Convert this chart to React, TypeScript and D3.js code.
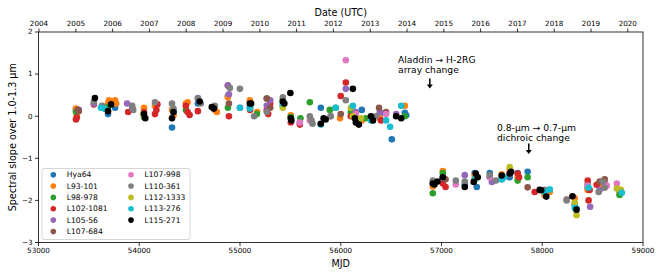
import React from "react";
import * as d3 from "d3";

// spectral slope per standard star, [MJD, slope]
const hya64 = [
  [53372, 0.15], [53630, 0.2], [53690, 0.05], [53760, 0.2], [54325, -0.27], [54582, 0.3], [54880, 0.48],
  [55098, 0.22], [55425, 0.25], [55802, 0.2], [56120, 0.12], [56209, 0.15], [56388, 0.05], [56507, -0.55],
  [56636, 0.08], [56650, 0.02],
  [56914, -1.6], [57013, -1.45], [57231, -1.62], [57330, -1.35], [57350, -1.68], [57479, -1.35], [57598, -1.45],
  [57677, -1.45], [57756, -1.35], [57855, -1.32], [58074, -1.75], [58322, -2.1], [58451, -1.7], [58570, -1.6],
  [58768, -1.78],
];
const l93_101 = [
  [53372, 0.18], [53380, 0.0], [53690, 0.3], [53700, 0.38], [53760, 0.38], [53770, 0.3], [54047, 0.2],
  [54156, 0.25], [54325, 0.15], [54340, 0.02], [54463, 0.3], [54480, 0.33], [54751, 0.15], [54770, 0.1],
  [54880, 0.45], [55098, 0.38], [55170, 0.1], [55504, 0.02], [55993, -0.05], [56209, -0.1], [56388, -0.05],
  [56636, 0.25],
  [56914, -1.67], [57013, -1.3], [57330, -1.4], [57598, -1.38], [57677, -1.28], [57756, -1.45], [58024, -1.88],
  [58074, -1.8], [58322, -1.95], [58451, -1.75], [58570, -1.65], [58768, -1.85],
];
const l98_978 = [
  [53372, 0.1], [53690, 0.22], [54047, -0.02], [54463, 0.15], [54880, 0.2], [55167, 0.05], [55266, 0.42],
  [55425, 0.38], [55504, -0.02], [55600, -0.05], [55693, 0.33], [55891, 0.15], [55950, 0.2], [56100, 0.1],
  [56250, -0.05], [56636, 0.0],
  [56914, -1.83], [57013, -1.35], [57330, -1.5], [57350, -1.45], [57756, -1.53], [57855, -1.45], [58451, -1.62],
  [58768, -1.87],
];
const l102_1081 = [
  [53372, -0.08], [53380, -0.03], [53550, 0.28], [53890, 0.1], [54047, 0.1], [54156, 0.05], [54170, 0.15],
  [54180, 0.28], [54463, 0.25], [54480, 0.1], [54500, 0.03], [54582, 0.12], [54880, 0.73], [54890, 0.0],
  [55100, 0.15], [55266, 0.15], [55280, 0.05], [55300, 0.3], [55504, -0.15], [55594, -0.2], [56000, 0.48],
  [56050, 0.8], [56100, 0.0], [56300, -0.05], [56400, -0.1],
  [57013, -1.6], [57040, -1.68], [57756, -1.36], [57770, -1.45], [57925, -1.8], [58451, -1.53], [58460, -2.0],
  [58470, -1.75], [58540, -1.63], [58600, -1.55],
];
const l105_56 = [
  [53400, 0.15], [53550, 0.3], [53880, 0.3], [53930, 0.2], [54582, 0.43], [54880, 0.73], [54890, 0.52],
  [55000, 0.2], [55266, 0.25], [55300, 0.38], [55594, -0.15], [55900, 0.0], [56050, 0.65], [56150, 0.1],
  [56388, 0.1], [56550, 0.05],
  [57231, -1.4], [57479, -1.45], [57500, -1.56], [57598, -1.5], [58475, -2.15], [58570, -1.75], [58620, -1.6],
];
const l107_684 = [
  [53390, 0.15], [53400, 0.12], [54890, 0.3], [55266, 0.42], [55300, 0.2], [56000, 0.05], [56380, 0.2],
  [56450, 0.1],
  [57040, -1.5], [57855, -1.69], [58243, -1.98], [58570, -1.55], [58620, -1.5],
];
const l107_998 = [
  [55594, -0.15], [55693, -0.1], [56050, 1.33], [56150, 0.05], [56450, 0.05],
  [57142, -1.62], [57480, -1.45], [58451, -1.65], [58640, -1.65], [58740, -1.6],
];
const l110_361 = [
  [53550, 0.35], [53630, 0.25], [53930, 0.25], [53940, 0.15], [54156, 0.33], [54325, 0.3], [54340, 0.18],
  [54582, 0.42], [54610, 0.3], [54751, 0.25], [54900, 0.67], [54999, 0.65], [55100, 0.22], [55140, 0.0],
  [55266, 0.1], [55425, 0.45], [55693, 0.0], [55710, -0.1], [55720, -0.18], [55900, 0.0], [56050, 0.38],
  [56350, 0.0],
  [56914, -1.53], [57142, -1.53], [57231, -1.55], [57479, -1.4], [57540, -1.53], [57677, -1.38], [58024, -1.75],
  [58243, -2.0], [58560, -1.8], [58600, -1.55], [58620, -1.7],
];
const l112_1333 = [
  [54040, 0.05], [55425, 0.2], [56100, 0.2], [56120, 0.0], [56200, -0.05],
  [57677, -1.21], [58322, -2.05], [58340, -2.35], [58740, -1.72], [58780, -1.75],
];
const l113_276 = [
  [53620, 0.2], [53650, 0.18], [54340, 0.1], [54999, 0.2], [55098, 0.18], [55425, 0.3], [55802, -0.2],
  [55950, 0.2], [56120, 0.25], [56300, -0.1], [56450, -0.1], [56490, -0.25], [56600, 0.25],
  [57330, -1.5], [57598, -1.5], [57620, -1.45], [58024, -1.8], [58074, -1.74], [58322, -2.18], [58340, -2.2],
  [58460, -1.7], [58790, -1.82],
];
const l115_271 = [
  [53560, 0.43], [53690, 0.12], [53720, 0.28], [54047, 0.05], [54060, -0.05], [54325, -0.05], [54340, 0.1],
  [54600, 0.35], [54720, 0.22], [54740, 0.18], [55098, 0.3], [55110, 0.3], [55425, 0.35], [55440, 0.3],
  [55500, 0.55], [55504, -0.05], [55510, -0.1], [55802, -0.18], [55830, -0.05], [55850, -0.08], [56120, 0.65],
  [56140, -0.05], [56150, -0.15], [56180, -0.2], [56300, 0.0], [56320, -0.1], [56550, 0.0], [56600, -0.05],
  [56914, -1.6], [56930, -1.62], [56960, -1.55], [57013, -1.45], [57231, -1.68], [57320, -1.56], [57340, -1.36],
  [57360, -1.45], [57598, -1.41], [57677, -1.36], [57690, -1.32], [57975, -1.75], [57990, -1.76], [58040, -1.91],
  [58300, -1.9], [58340, -2.22],
];

const names = [
  "Hya64", "L93-101", "L98-978", "L102-1081", "L105-56", "L107-684",
  "L107-998", "L110-361", "L112-1333", "L113-276", "L115-271",
];
const series = [
  hya64, l93_101, l98_978, l102_1081, l105_56, l107_684,
  l107_998, l110_361, l112_1333, l113_276, l115_271,
];
const colors = [
  "#1f77b4", "#ff7f0e", "#2ca02c", "#d62728", "#9467bd", "#8c564b",
  "#e377c2", "#7f7f7f", "#bcbd22", "#17becf", "#000000",
];

const mjdTicks = [53000, 54000, 55000, 56000, 57000, 58000, 59000];
const slopeTicks = [-3, -2, -1, 0, 1, 2];
const years = d3.range(2004, 2021);

const W = 664, H = 277;
const margin = { left: 38.5, right: 21, top: 32, bottom: 34.5 };
const font = "DejaVu Sans, sans-serif";

// MJD 0 = 1858-11-17
const mjdOf = (yr: number) => (Date.UTC(yr, 0, 1) - Date.UTC(1858, 10, 17)) / 86400000;

export default function App() {
  const x = d3.scaleLinear().domain([53000, 59000]).range([margin.left, W - margin.right]);
  const y = d3.scaleLinear().domain([-3, 2]).range([H - margin.bottom, margin.top]);
  const [x0, x1] = x.range();
  const [yb, yt] = y.range();

  return (
    <svg width={W} height={H} style={{ position: "absolute", left: 0, top: 0 }} fontFamily={font}>
      <rect width={W} height={H} fill="#fff" />

      {/* points, first series at the bottom */}
      {series.map((s, i) => (
        <g key={names[i]} fill={colors[i]}>
          {s.map((d, j) => (
            <circle key={j} cx={x(d[0])} cy={y(d[1])} r={3.3} />
          ))}
        </g>
      ))}

      {/* frame */}
      <rect x={x0} y={yt} width={x1 - x0} height={yb - yt} fill="none" stroke="#000" strokeWidth={0.8} />

      {/* bottom axis */}
      {mjdTicks.map((t) => (
        <g key={t} transform={`translate(${x(t)},0)`}>
          <line y1={yb} y2={yb + 3.5} stroke="#000" strokeWidth={0.8} />
          <text y={yb + 10.5} fontSize={7.2} textAnchor="middle">{t}</text>
        </g>
      ))}
      <text x={(x0 + x1) / 2} y={266.5} fontSize={9.6} textAnchor="middle">MJD</text>

      {/* top axis: calendar years */}
      {years.map((yr) => (
        <g key={yr} transform={`translate(${x(mjdOf(yr))},0)`}>
          <line y1={yt} y2={yt - 3.5} stroke="#000" strokeWidth={0.8} />
          <text y={yt - 6.3} fontSize={7.2} textAnchor="middle">{yr}</text>
        </g>
      ))}
      <text x={(x0 + x1) / 2} y={15.5} fontSize={9.6} textAnchor="middle">Date (UTC)</text>

      {/* left axis */}
      {slopeTicks.map((t) => (
        <g key={t} transform={`translate(0,${y(t)})`}>
          <line x1={x0} x2={x0 - 3.5} stroke="#000" strokeWidth={0.8} />
          <text x={x0 - 6} dy="0.32em" fontSize={7.2} textAnchor="end">
            {t < 0 ? "\u2212" + Math.abs(t) : t}
          </text>
        </g>
      ))}
      <text
        transform={`translate(15.5,${(yt + yb) / 2}) rotate(-90)`}
        fontSize={9.6}
        textAnchor="middle"
      >
        Spectral slope over 1.0-1.3 µm
      </text>

      {/* annotations */}
      <g fontSize={9.2}>
        <text x={398} y={63}>Aladdin → H-2RG</text>
        <text x={398} y={73}>array change</text>
        <text x={497} y={130.5}>0.8-µm → 0.7-µm</text>
        <text x={497} y={140.5}>dichroic change</text>
      </g>
      {[
        [x(56884), 78.5, 88.5],
        [x(57866), 143.5, 154],
      ].map(([ax, a1, a2], i) => (
        <g key={i}>
          <line x1={ax} x2={ax} y1={a1} y2={a2 - 3} stroke="#000" strokeWidth={1.5} />
          <path d={`M${ax - 3},${a2 - 4}L${ax + 3},${a2 - 4}L${ax},${a2}Z`} fill="#000" />
        </g>
      ))}

      {/* legend */}
      <rect x={42} y={168.5} width={148} height={71} rx={2} fill="#fff" fillOpacity={0.8} stroke="#ccc" strokeWidth={0.8} />
      {names.map((n, i) => {
        const col = i < 6 ? 0 : 1;
        const row = i < 6 ? i : i - 6;
        const lx = col === 0 ? 53.3 : 131;
        const ly = 174.7 + row * 11.35;
        return (
          <g key={n}>
            <circle cx={lx} cy={ly} r={2.8} fill={colors[i]} />
            <text x={lx + 13.5} y={ly} dy="0.35em" fontSize={7.6}>{n}</text>
          </g>
        );
      })}
    </svg>
  );
}
